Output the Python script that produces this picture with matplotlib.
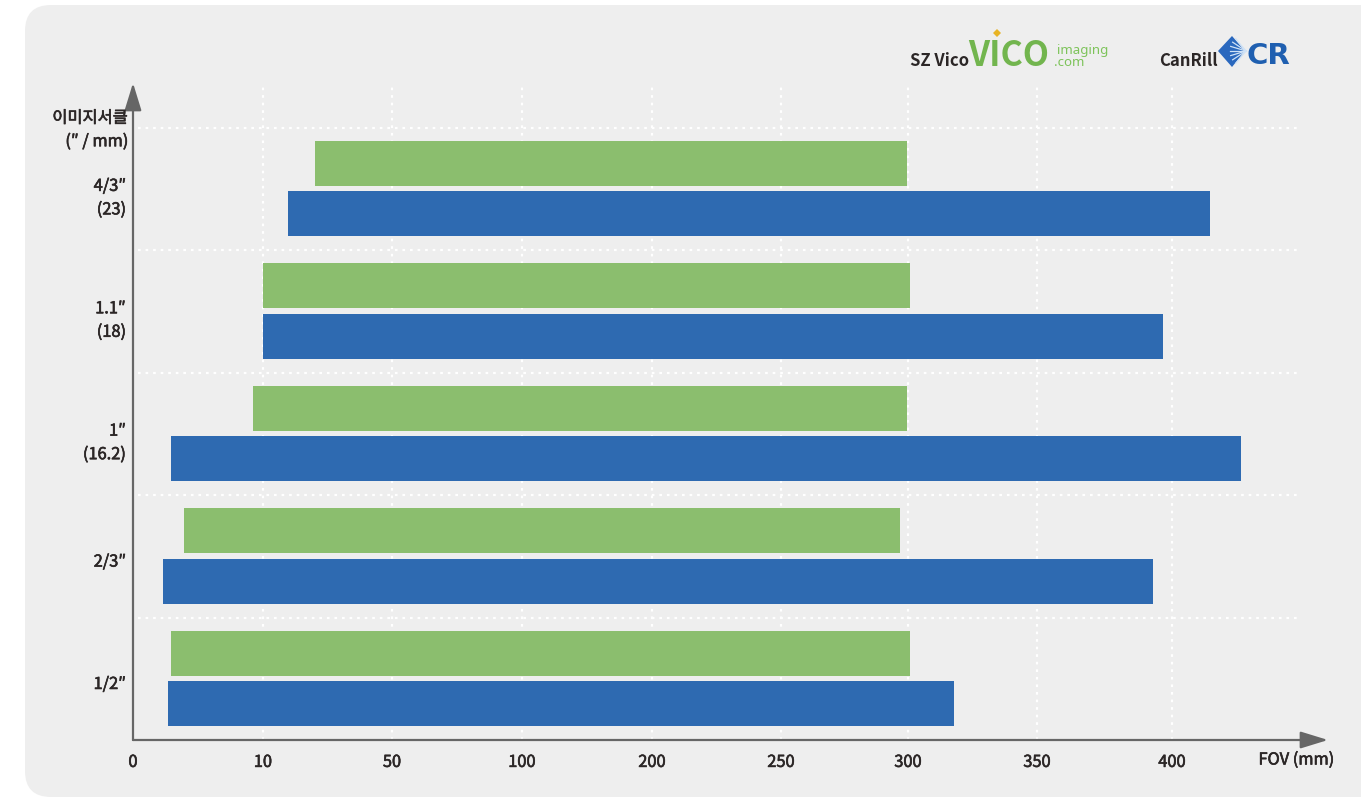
import numpy as np
import matplotlib
matplotlib.use("Agg")
import matplotlib.pyplot as plt
import matplotlib.patheffects as pe
from matplotlib.patches import FancyBboxPatch, Polygon
from matplotlib.transforms import Affine2D

plt.rcParams['font.family'] = ['Noto Sans CJK KR', 'DejaVu Sans']

# ---------------- data ----------------
sensor_labels = ['1/2″', '2/3″', '1″\n(16.2)', '1.1″\n(18)', '4/3″\n(23)']   # bottom -> top
vico_start = [2.9, 3.9, 9.2, 10.0, 26.1]
vico_end = [300.8, 296.9, 299.6, 300.8, 299.6]
canrill_start = [2.7, 2.3, 2.9, 10.0, 17.75]
canrill_end = [317.8, 393.0, 426.5, 396.7, 414.6]
tick_values = [0, 10, 50, 100, 200, 250, 300, 350, 400]
tick_labels = ['0', '10', '50', '100', '200', '250', '300', '350', '400']
# axis break positions of the (non-linear) FOV scale
scale_values = [0, 10, 50, 100, 200, 250, 300, 350, 400, 450, 500]
scale_positions = [0, 130, 259, 389, 519, 648, 775, 904, 1039, 1169, 1299]

GREEN = '#8BBE6E'
BLUE = '#2E6AB1'
TEXT = '#2b2626'
AXIS = '#666666'
medium = [pe.withStroke(linewidth=0.45, foreground=TEXT)]

W, H = 1361, 799
fig = plt.figure(figsize=(W / 100, H / 100), dpi=100)
fig.patch.set_facecolor('white')
pix = Affine2D().scale(1 / W, -1 / H).translate(0, 1) + fig.transFigure

# rounded background panel
bg = FancyBboxPatch((25, 5), 1420, 792, boxstyle='round,pad=0,rounding_size=26',
                    transform=pix, facecolor='#EEEEEE', edgecolor='none', zorder=-5)
fig.patches.append(bg)

ax_left, ax_right, ax_bottom, ax_top = 133, 1328, 740, 83
ax = fig.add_axes([ax_left / W, 1 - ax_bottom / H, (ax_right - ax_left) / W, (ax_bottom - ax_top) / H])
ax.set_facecolor('none')
ax.set_zorder(2)

fwd = lambda v: np.interp(v, scale_values, scale_positions)
inv = lambda p: np.interp(p, scale_positions, scale_values)
ax.set_xscale('function', functions=(fwd, inv))
ax.set_xlim(0, 460)
band = 122.4
ax.set_ylim(0, (ax_bottom - ax_top) / band)

y = np.arange(len(sensor_labels))
bh = 0.368
ax.barh(y + 0.71, np.array(vico_end) - np.array(vico_start), left=vico_start,
        height=bh, color=GREEN, zorder=3)
ax.barh(y + 0.298, np.array(canrill_end) - np.array(canrill_start), left=canrill_start,
        height=bh, color=BLUE, zorder=3)

# gridlines
ytr = ax.get_yaxis_transform()
xtr = ax.get_xaxis_transform()
ax.hlines(np.arange(1, len(sensor_labels) + 1), 0.004, 0.975, transform=ytr,
          colors='white', linestyles=(0, (1.2, 2.2)), linewidth=1.6, zorder=1)
ax.vlines(tick_values[1:], 0, 1, transform=xtr,
          colors='white', linestyles=(0, (1.2, 2.2)), linewidth=1.6, zorder=1)

for s in ax.spines.values():
    s.set_visible(False)
arrow = dict(arrowstyle='-|>,head_length=1.3,head_width=0.4', color=AXIS, lw=1.6,
             mutation_scale=13, shrinkA=0, shrinkB=0)
ax.annotate('', xy=(0, 1), xytext=(0, 0), xycoords='axes fraction', arrowprops=arrow)
ax.annotate('', xy=(1, 0), xytext=(0, 0), xycoords='axes fraction', arrowprops=arrow)

ax.set_xticks(tick_values)
ax.set_xticklabels(tick_labels)
ax.xaxis.set_minor_locator(matplotlib.ticker.NullLocator())
ax.tick_params(axis='x', length=0, pad=10, labelsize=11.8, labelcolor=TEXT)
ax.set_yticks(y + 0.47)
ax.set_yticklabels(sensor_labels, linespacing=1.5)
ax.tick_params(axis='y', length=0, pad=5, labelsize=11.8, labelcolor=TEXT)
for t in ax.get_xticklabels() + ax.get_yticklabels():
    t.set_path_effects(medium)

# axis titles
fig.text(128 / W, 1 - 130 / H, '이미지서클\n(″ / mm)', ha='right', va='center',
         fontsize=11.8, color=TEXT, linespacing=1.5, path_effects=medium)
fig.text(1334 / W, 1 - 760 / H, 'FOV (mm)', ha='right', va='center',
         fontsize=11.8, color=TEXT, path_effects=medium)

# logos
fig.text(910 / W, 1 - 66 / H, 'SZ Vico', ha='left', va='baseline', fontsize=12,
         color=TEXT, fontweight='bold')
fig.text(968 / W, 1 - 66 / H, 'VICO', ha='left', va='baseline', fontsize=24.5,
         color='#72B54E', fontweight='bold')
fig.text(1057 / W, 1 - 54 / H, 'imaging', ha='left', va='baseline', fontsize=9.5,
         color='#7DC35A', family=['Noto Sans', 'DejaVu Sans'])
fig.text(1054 / W, 1 - 66 / H, '.com', ha='left', va='baseline', fontsize=9.5,
         color='#7DC35A', family=['Noto Sans', 'DejaVu Sans'])
fig.add_artist(Polygon([(997, 29), (1001, 33), (997, 37), (993, 33)], closed=True,
                       transform=pix, facecolor='#E8B425', edgecolor='none'))
fig.text(1159 / W, 1 - 66 / H, 'CanRill', ha='left', va='baseline', fontsize=12,
         color=TEXT, fontweight='bold')
fig.add_artist(Polygon([(1218, 51), (1232, 36), (1245, 51), (1232, 67)], closed=True,
                       transform=pix, facecolor='#2A68BE', edgecolor='none'))
for ang in np.linspace(-50, 50, 7):
    r = np.deg2rad(ang)
    fig.add_artist(plt.Line2D([1246, 1246 - 16 * np.cos(r)], [51, 51 + 16 * np.sin(r)],
                              transform=pix, color='#CFE2F6', lw=0.9))
fig.text(1247 / W, 1 - 64.5 / H, 'CR', ha='left', va='baseline', fontsize=21,
         color='#1F5FB0', fontweight='bold', family=['DejaVu Sans'])

fig.savefig('out.png', dpi=100, facecolor='white')
